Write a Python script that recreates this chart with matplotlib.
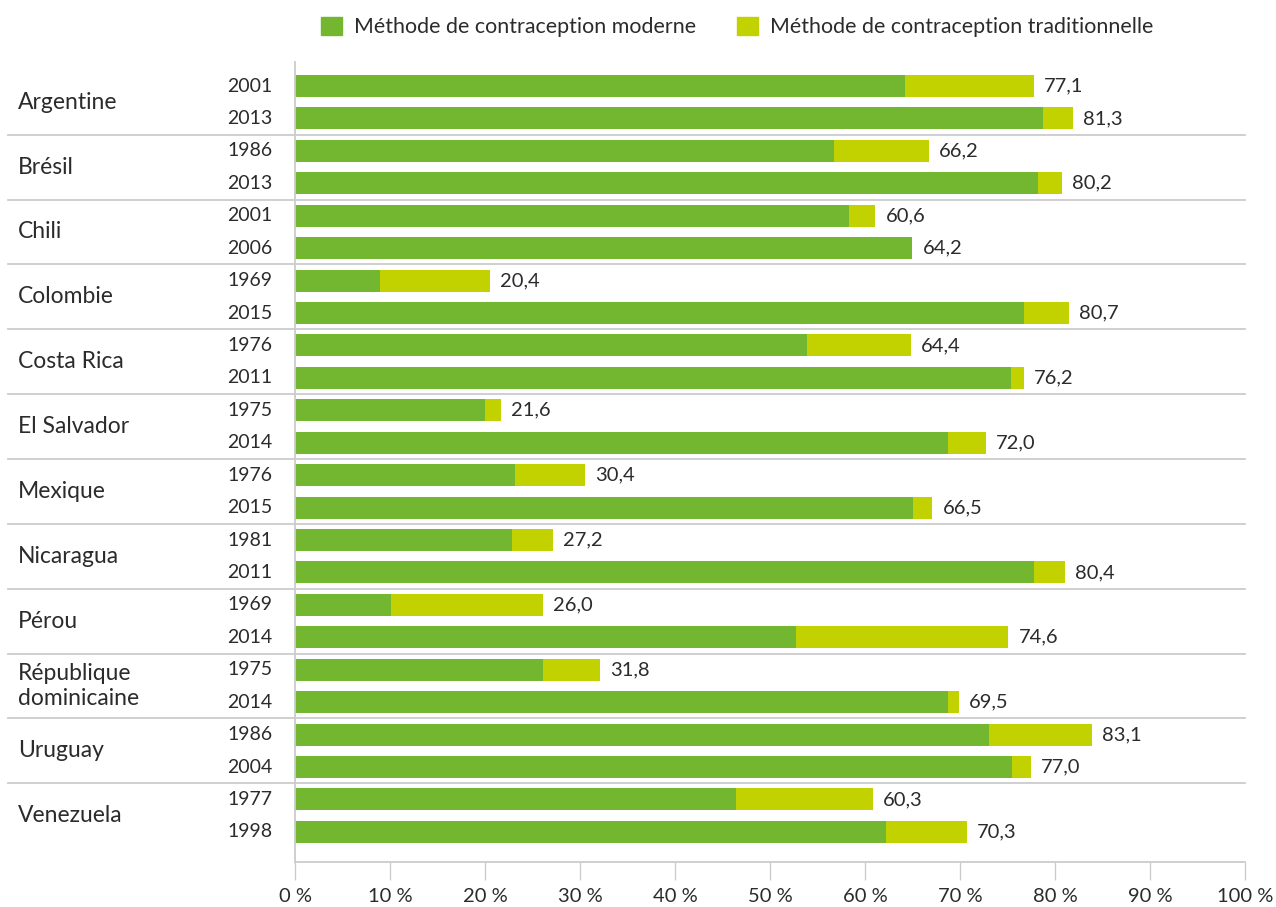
import matplotlib.pyplot as plt
from matplotlib.patches import Patch

plt.rcParams['font.family'] = ['Lato', 'DejaVu Sans']

# countries and survey years (two bars per country)
countries = ["Argentine", "Brésil", "Chili", "Colombie", "Costa Rica", "El Salvador",
             "Mexique", "Nicaragua", "Pérou", "République\ndominicaine", "Uruguay", "Venezuela"]
years = ["2001", "2013", "1986", "2013", "2001", "2006", "1969", "2015", "1976", "2011",
         "1975", "2014", "1976", "2015", "1981", "2011", "1969", "2014", "1975", "2014",
         "1986", "2004", "1977", "1998"]

# modern and traditional method shares
modern = [64.2, 78.7, 56.7, 78.2, 58.3, 65.0, 8.9, 76.7, 53.9, 75.4, 20.0, 68.7,
          23.2, 65.1, 22.8, 77.8, 10.1, 52.7, 26.1, 68.7, 73.1, 75.5, 46.4, 62.2]
traditional = [13.6, 3.2, 10.0, 2.5, 2.8, 0.0, 11.6, 4.8, 10.9, 1.3, 1.7, 4.0,
               7.3, 2.0, 4.4, 3.3, 16.0, 22.4, 6.0, 1.2, 10.8, 2.0, 14.4, 8.5]
# published totals shown as labels
totals = [77.1, 81.3, 66.2, 80.2, 60.6, 64.2, 20.4, 80.7, 64.4, 76.2, 21.6, 72.0,
          30.4, 66.5, 27.2, 80.4, 26.0, 74.6, 31.8, 69.5, 83.1, 77.0, 60.3, 70.3]

green = "#72b72f"
yellow = "#c2d100"
txt = "#2b2b2b"
grey = "#cccccc"

fig = plt.figure(figsize=(12.76, 9.07), dpi=100)
ax = fig.add_axes([0.2312, 0.0496, 0.7445, 0.882])

pos = list(range(len(years)))
ax.barh(pos, modern, height=0.68, color=green)
ax.barh(pos, traditional, left=modern, height=0.68, color=yellow)

ax.set_xlim(0, 100)
ax.set_ylim(23.93, -0.74)

for i in pos:
    end = modern[i] + traditional[i]
    ax.annotate(f"{totals[i]:.1f}".replace(".", ","), (end, i), xytext=(10, 0),
                textcoords="offset pixels", va="center", ha="left", fontsize=14.5, color=txt)
    ax.text(-0.024, i, years[i], transform=ax.get_yaxis_transform(), ha="right",
            va="center", fontsize=14, color=txt)

for g, name in enumerate(countries):
    ax.text(-0.2916, 2 * g + 0.5, name, transform=ax.get_yaxis_transform(), ha="left",
            va="center", fontsize=16.5, color=txt, linespacing=1.2)
    if g < len(countries) - 1:
        ax.plot([-0.302, 1.0], [2 * g + 1.5] * 2, transform=ax.get_yaxis_transform(),
                color=grey, lw=1.3, clip_on=False)

ax.set_yticks([])
ax.set_xticks(range(0, 101, 10))
ax.set_xticklabels([f"{t} %" for t in range(0, 101, 10)], fontsize=14.5, color=txt)
ax.tick_params(axis="x", length=13, width=1, color=grey, pad=6)
for s in ["top", "right"]:
    ax.spines[s].set_visible(False)
for s in ["left", "bottom"]:
    ax.spines[s].set_color(grey)
    ax.spines[s].set_linewidth(1.3)

handles = [Patch(color=green, label="Méthode de contraception moderne"),
           Patch(color=yellow, label="Méthode de contraception traditionnelle")]
leg = fig.legend(handles=handles, loc="center", bbox_to_anchor=(0.578, 0.970), ncol=2,
                 frameon=False, fontsize=15.4, handlelength=0.95, handleheight=0.95,
                 columnspacing=1.9, handletextpad=0.6)
for t in leg.get_texts():
    t.set_color(txt)

fig.savefig("out.png", dpi=100)
